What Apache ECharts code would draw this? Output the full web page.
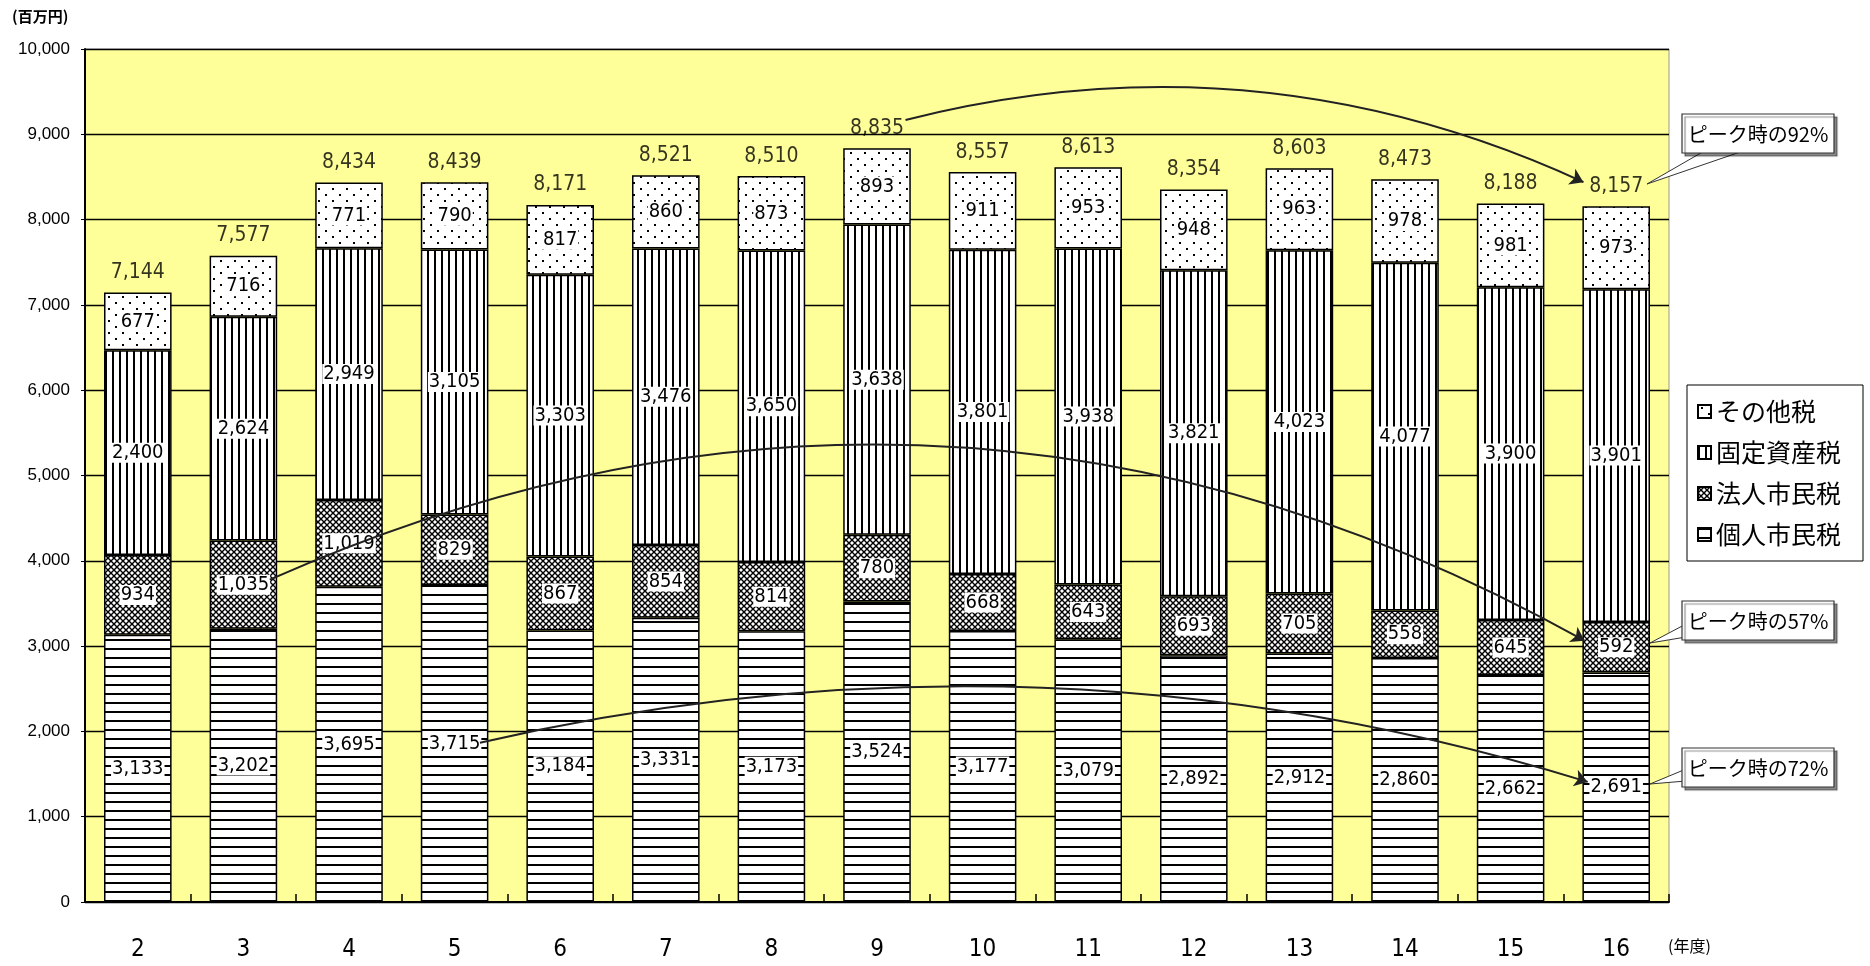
<!DOCTYPE html>
<html><head><meta charset="utf-8">
<script src="https://cdn.jsdelivr.net/npm/echarts@6/dist/echarts.min.js"></script>
<style>html,body{margin:0;padding:0;background:#fff}#c{width:1870px;height:966px}</style>
</head><body><div id="c"></div>
<script>
// ---- data ----
const categories = ['2','3','4','5','6','7','8','9','10','11','12','13','14','15','16'];
const kojin  = [3133,3202,3695,3715,3184,3331,3173,3524,3177,3079,2892,2912,2860,2662,2691]; // 個人市民税
const hojin  = [934,1035,1019,829,867,854,814,780,668,643,693,705,558,645,592];               // 法人市民税
const kotei  = [2400,2624,2949,3105,3303,3476,3650,3638,3801,3938,3821,4023,4077,3900,3901]; // 固定資産税
const sonota = [677,716,771,790,817,860,873,893,911,953,948,963,978,981,973];                 // その他税
const totals = [7144,7577,8434,8439,8171,8521,8510,8835,8557,8613,8354,8603,8473,8188,8157];
const seriesNames = ['個人市民税','法人市民税','固定資産税','その他税'];
const legendOrder = ['その他税','固定資産税','法人市民税','個人市民税'];
// annotation arrows (category position, value)
const arrowFrom = [[7.27,9167],[1.25,3779],[3.24,1866]];
const arrowTo   = [[13.69,8439],[13.70,3063],[13.73,1408]];
const calloutTexts = ['ピーク時の92%','ピーク時の57%','ピーク時の72%'];

// ---- patterns ----
function mk(w,h,draw){const c=document.createElement('canvas');c.width=w;c.height=h;const g=c.getContext('2d');
  g.fillStyle='#fff';g.fillRect(0,0,w,h);g.fillStyle='#000';g.strokeStyle='#000';draw(g);return {image:c,repeat:'repeat'};}
const pHoriz = mk(8,9,g=>g.fillRect(0,0,8,2));
const pVert  = mk(7,8,g=>g.fillRect(0,0,2,8));
const pDots  = mk(14,12,g=>{g.fillRect(3,2,2,2);g.fillRect(10,8,2,2);});
const pCross = mk(6,6,g=>{g.lineWidth=1.4;g.beginPath();g.moveTo(0,0);g.lineTo(6,6);g.moveTo(6,0);g.lineTo(0,6);g.stroke();});
const patterns = [pHoriz,pCross,pVert,pDots];
const segData = [kojin,hojin,kotei,sonota];

const numFont = "'Liberation Sans Narrow','DejaVu Sans Condensed','Liberation Sans',sans-serif";
const jpFont = "'Noto Sans CJK JP',sans-serif";
const fmt = v => Number(v).toLocaleString('en-US');

const chart = echarts.init(document.getElementById('c'));
const series = segData.map((d,i)=>({
  name: seriesNames[i], type:'bar', stack:'t', data:d, barWidth:'64%',
  itemStyle:{color:patterns[i], borderColor:'#000', borderWidth:1.5},
  label:{show:true, position:'inside', formatter:p=>fmt(p.value), color:'#000',
    fontFamily:numFont, fontSize:20, backgroundColor:'#fff', padding:[0,1]}
}));
series.push({
  name:'合計', type:'scatter', data:totals, symbol:'rect', symbolSize:1,
  itemStyle:{color:'rgba(0,0,0,0)'}, z:5,
  label:{show:true, position:'top', distance:9, formatter:p=>fmt(p.value), color:'#000',
    fontFamily:numFont, fontSize:21}
});
series.push({
  name:'arrows', type:'lines', coordinateSystem:'cartesian2d', xAxisIndex:1, yAxisIndex:0,
  polyline:false, z:10, symbol:['none','arrow'], symbolSize:13,
  lineStyle:{color:'#222', width:2, opacity:1},
  data: arrowFrom.map((f,i)=>({coords:[f,arrowTo[i]], lineStyle:{curveness:[0.177,0.25,0.135][i]}}))
});

const boxes = [{x:1682,y:114},{x:1682,y:601},{x:1682,y:748}];
const pointers = [
  [[1706,150],[1746,150],[1647,184]],
  [[1686,624],[1686,637],[1650,643]],
  [[1686,769],[1686,781],[1650,784]]
];
const graphic = [
  {type:'text', left:12, top:9, style:{text:'(百万円)', font:"bold 15px 'Noto Sans CJK JP',sans-serif", fill:'#000'}},
  {type:'text', left:1668, top:938, style:{text:'(年度)', font:"16px 'Noto Sans CJK JP',sans-serif", fill:'#000'}}
];
pointers.forEach(pts=>{
  graphic.push({type:'polygon', z:100, shape:{points:pts}, style:{fill:'#fff', stroke:'#333', lineWidth:1}});
});
boxes.forEach((b,i)=>{
  graphic.push({type:'rect', z:101, shape:{x:b.x,y:b.y,width:152,height:39},
    style:{fill:'#fff', stroke:'#333', lineWidth:1.2, shadowColor:'rgba(0,0,0,0.45)', shadowOffsetX:3, shadowOffsetY:3, shadowBlur:1}});
  graphic.push({type:'text', z:102, x:b.x+76, y:b.y+20,
    style:{text:calloutTexts[i], font:"20px 'Noto Sans CJK JP',sans-serif", fill:'#000', align:'center', verticalAlign:'middle'}});
});

chart.setOption({
  animation:false,
  backgroundColor:'#fff',
  grid:{left:85, right:201, top:49, bottom:64, show:true, backgroundColor:'#FFFF99', borderColor:'#999', borderWidth:1, outerBoundsMode:'none'},
  legend:{data:legendOrder, orient:'vertical', left:1687, top:385, icon:'rect', itemWidth:13, itemHeight:13,
    itemGap:16, backgroundColor:'#fff', borderColor:'#000', borderWidth:1, borderRadius:0, padding:[14,22,14,10],
    textStyle:{fontFamily:jpFont, fontSize:25, color:'#000'}},
  xAxis:[{type:'category', data:categories, gridIndex:0,
    axisLine:{onZero:false, lineStyle:{color:'#000', width:2}},
    axisTick:{show:true, inside:true, length:8, lineStyle:{color:'#000', width:1.5}},
    axisLabel:{margin:36, color:'#000', fontFamily:numFont, fontSize:24}},
   {type:'value', min:-0.5, max:14.5, show:false, gridIndex:0, axisLine:{onZero:false}}],
  yAxis:{type:'value', min:0, max:10000, interval:1000,
    axisLine:{show:true, onZero:false, lineStyle:{color:'#000', width:2}},
    axisTick:{show:true, length:4, lineStyle:{color:'#000'}},
    axisLabel:{margin:15, color:'#000', fontFamily:"'Liberation Sans',sans-serif", fontSize:17, formatter:v=>fmt(v)},
    splitLine:{show:true, lineStyle:{color:'#000', width:1.3}}},
  series, graphic
});
</script></body></html>
